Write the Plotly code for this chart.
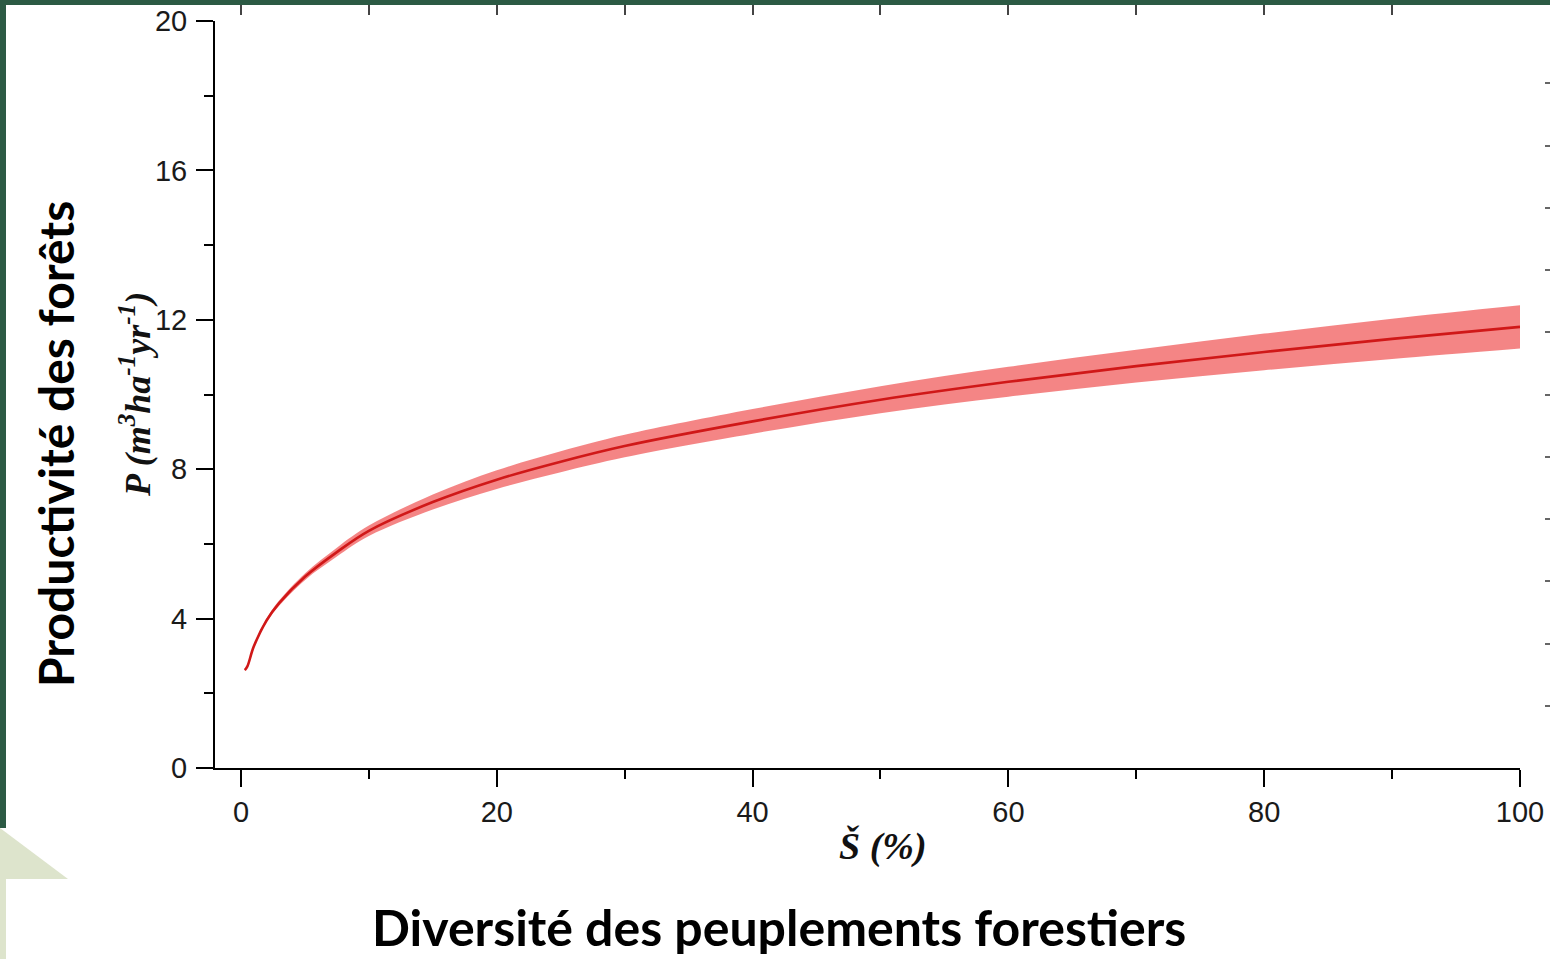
import plotly.graph_objects as go

# ---- data ----
S_pct = [0.3, 0.5, 1, 2, 3, 5, 7.5, 10, 15, 20, 25, 30, 40, 50, 60, 70, 80, 90, 100]
P_mid = [2.62, 2.72, 3.25, 3.95, 4.42, 5.12, 5.78, 6.35, 7.12, 7.72, 8.20, 8.62, 9.28, 9.86, 10.34, 10.76, 11.14, 11.49, 11.81]
P_half = [0.02, 0.02, 0.03, 0.05, 0.07, 0.09, 0.12, 0.14, 0.20, 0.25, 0.28, 0.30, 0.33, 0.36, 0.40, 0.44, 0.49, 0.54, 0.58]
P_low = [m - h for m, h in zip(P_mid, P_half)]
P_high = [m + h for m, h in zip(P_mid, P_half)]

x_major = [0, 20, 40, 60, 80, 100]
y_major = [0, 4, 8, 12, 16, 20]
top_ticks = [0, 10, 20, 30, 40, 50, 60, 70, 80, 90, 100]
right_ticks = list(range(0, 13))

W, H = 1550, 959
def px(x):
    return x / W
def py(y):
    return 1 - y / H

DARK_GREEN = "#2c5a44"
LIGHT_GREEN = "#dde4cc"

fig = go.Figure()

# confidence band
fig.add_trace(go.Scatter(x=S_pct, y=P_high, mode="lines", line=dict(width=0, shape="spline"),
                         hoverinfo="skip", showlegend=False))
fig.add_trace(go.Scatter(x=S_pct, y=P_low, mode="lines", line=dict(width=0, shape="spline"),
                         fill="tonexty", fillcolor="rgba(242,112,112,0.85)",
                         hoverinfo="skip", showlegend=False))
# fitted curve
fig.add_trace(go.Scatter(x=S_pct, y=P_mid, mode="lines",
                         line=dict(color="#d01818", width=2.6, shape="spline"),
                         showlegend=False))
# invisible traces to carry the mirror axes
fig.add_trace(go.Scatter(x=S_pct, y=P_mid, xaxis="x2", yaxis="y", mode="lines",
                         opacity=0, hoverinfo="skip", showlegend=False))
fig.add_trace(go.Scatter(x=S_pct, y=P_mid, xaxis="x", yaxis="y2", mode="lines",
                         opacity=0, hoverinfo="skip", showlegend=False))

tickfont = dict(family="Liberation Sans, Arial, sans-serif", size=29, color="#1a1a1a")

fig.update_layout(
    width=W, height=H,
    margin=dict(l=0, r=0, t=0, b=0, pad=0, autoexpand=False),
    paper_bgcolor="white", plot_bgcolor="white",
    showlegend=False,
    xaxis=dict(
        domain=[px(215), px(1520)], range=[-2.03, 100],
        showgrid=False, zeroline=False, automargin=False,
        showline=True, linecolor="black", linewidth=2,
        tickmode="array", tickvals=x_major, ticktext=[str(v) for v in x_major],
        ticks="outside", ticklen=17, tickwidth=2, tickcolor="black",
        tickfont=tickfont,
        minor=dict(ticks="outside", ticklen=9, tickwidth=2, tickcolor="black",
                   tickvals=[10, 30, 50, 70, 90], showgrid=False),
    ),
    yaxis=dict(
        domain=[py(768), py(21)], range=[0, 20],
        showgrid=False, zeroline=False, automargin=False,
        showline=True, linecolor="black", linewidth=2,
        tickmode="array", tickvals=y_major, ticktext=[str(v) for v in y_major],
        ticks="outside", ticklen=17, tickwidth=2, tickcolor="black",
        tickfont=tickfont, ticklabelstandoff=3,
        minor=dict(ticks="outside", ticklen=9, tickwidth=2, tickcolor="black",
                   tickvals=[2, 6, 10, 14, 18], showgrid=False),
    ),
    xaxis2=dict(
        overlaying="x", side="top", anchor="free", position=1, automargin=False,
        range=[-2.03, 100], showgrid=False, zeroline=False, showline=False,
        tickmode="array", tickvals=top_ticks, showticklabels=False,
        ticks="inside", ticklen=14, tickwidth=2, tickcolor="#444",
    ),
    yaxis2=dict(
        overlaying="y", side="right", anchor="free", position=1, automargin=False,
        range=[0, 12], showgrid=False, zeroline=False, showline=False,
        tickmode="array", tickvals=right_ticks, showticklabels=False,
        ticks="inside", ticklen=5, tickwidth=2, tickcolor="#666",
    ),
)

# decorative frame (dark green border + light green corner)
fig.add_shape(type="rect", xref="paper", yref="paper", x0=0, x1=1, y0=py(5), y1=1,
              fillcolor=DARK_GREEN, line=dict(width=0), layer="above")
fig.add_shape(type="rect", xref="paper", yref="paper", x0=0, x1=px(6), y0=py(828), y1=1,
              fillcolor=DARK_GREEN, line=dict(width=0), layer="above")
fig.add_shape(type="path", xref="paper", yref="paper",
              path=f"M 0 {py(828)} L {px(68)} {py(879)} L {px(6)} {py(879)} L {px(6)} 0 L 0 0 Z",
              fillcolor=LIGHT_GREEN, line=dict(width=0), layer="above")

# axis titles (inner, from original figure)
fig.add_annotation(xref="paper", yref="paper", x=px(135), y=py(395),
                   text="<b><i>P (m<sup>3</sup>ha<sup>-1</sup>yr<sup>-1</sup>)</i></b>",
                   textangle=-90, showarrow=False, xanchor="center", yanchor="middle",
                   font=dict(family="Liberation Serif, Times New Roman, serif", size=36, color="#111"))
fig.add_annotation(xref="paper", yref="paper", x=px(883), y=py(846),
                   text="<b><i>Š (%)</i></b>", showarrow=False,
                   xanchor="center", yanchor="middle",
                   font=dict(family="Liberation Serif, Times New Roman, serif", size=38, color="#111"))

# outer French titles
fig.add_annotation(xref="paper", yref="paper", x=px(55), y=py(444),
                   text="<b>Productivité des forêts</b>", textangle=-90, showarrow=False,
                   xanchor="center", yanchor="middle",
                   font=dict(family="Lato, Open Sans, sans-serif", size=48, color="black"))
fig.add_annotation(xref="paper", yref="paper", x=px(779), y=py(927),
                   text="<b>Diversité des peuplements forestiers</b>", showarrow=False,
                   xanchor="center", yanchor="middle",
                   font=dict(family="Lato, Open Sans, sans-serif", size=50, color="black"))

fig.write_html("out.html", config={"displayModeBar": False},
               post_script="document.body.style.margin='0px';document.body.style.overflow='hidden';")
